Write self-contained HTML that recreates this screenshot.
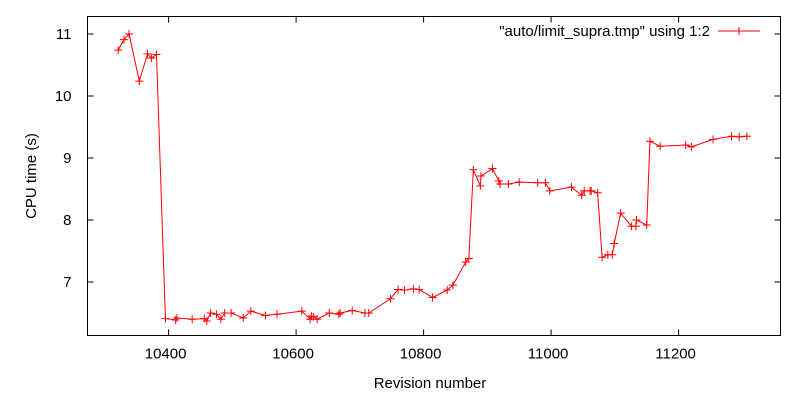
<!DOCTYPE html>
<html><head><meta charset="utf-8"><style>
body{margin:0;background:#fff;}
svg{display:block;font-family:"Liberation Sans",Arial,sans-serif;font-size:15px;}
</style></head><body>
<svg id="chart" width="800" height="400"></svg>
<script>
const revisions=[10321,10330,10338,10354,10367,10373,10381,10395,10411,10413,10437,10456,10460,10466,10475,10482,10488,10498,10517,10529,10552,10570,10609,10622,10624,10627,10633,10652,10667,10669,10688,10708,10714,10748,10760,10770,10784,10793,10814,10837,10846,10866,10871,10878,10889,10890,10908,10918,10920,10933,10950,10979,10991,10998,11032,11048,11052,11061,11063,11073,11080,11089,11096,11099,11109,11126,11133,11134,11150,11155,11171,11211,11220,11254,11283,11295,11307];
const cpuTimes=[10.74,10.91,11.0,10.24,10.68,10.61,10.67,6.41,6.39,6.42,6.40,6.41,6.37,6.50,6.48,6.40,6.50,6.50,6.42,6.53,6.46,6.48,6.53,6.40,6.45,6.44,6.40,6.50,6.48,6.50,6.54,6.50,6.50,6.73,6.88,6.87,6.89,6.88,6.75,6.87,6.95,7.32,7.38,8.81,8.55,8.71,8.83,8.63,8.58,8.58,8.61,8.60,8.60,8.47,8.53,8.40,8.47,8.47,8.47,8.44,7.40,7.44,7.44,7.62,8.11,7.90,7.90,8.00,7.92,9.27,9.19,9.21,9.18,9.30,9.35,9.34,9.35];
const xTicks=[10400,10600,10800,11000,11200];
const yTicks=[7,8,9,10,11];
const NS="http://www.w3.org/2000/svg";
const svg=document.getElementById('chart');
const L=87.5,R=780.5,T=16.5,B=335.5;
const xs=v=>168.6+(v-10400)*0.6375;
const ys=v=>34+(11-v)*62;
function mk(tag,attrs,parent){const e=document.createElementNS(NS,tag);for(const k in attrs)e.setAttribute(k,attrs[k]);(parent||svg).appendChild(e);return e;}
const frame=mk('rect',{x:L,y:T,width:R-L,height:B-T,fill:'none',stroke:'#000','stroke-width':1});


xTicks.forEach(t=>{const x=xs(t);
 const g=mk('g',{});
 
 
 mk('line',{x1:x,y1:B,x2:x,y2:B-6,stroke:'#000'},g);
 mk('line',{x1:x,y1:T,x2:x,y2:T+6,stroke:'#000'},g);
 const tx=mk('text',{x:x-3,y:B+23,'text-anchor':'middle'},g);tx.textContent=t;});
yTicks.forEach(t=>{const y=ys(t);
 const g=mk('g',{});
 
 
 mk('line',{x1:L,y1:y,x2:L+6,y2:y,stroke:'#000'},g);
 mk('line',{x1:R,y1:y,x2:R-6,y2:y,stroke:'#000'},g);
 const tx=mk('text',{x:L-16,y:y+5,'text-anchor':'end'},g);tx.textContent=t;});
const yt=mk('text',{x:36,y:176,'text-anchor':'middle',transform:'rotate(-90 36 176)'});
yt.textContent='CPU time (s)';


const xt=mk('text',{x:430,y:388,'text-anchor':'middle'});
xt.textContent='Revision number';


const pts=revisions.map((r,i)=>[xs(r),ys(cpuTimes[i])]);
const line=mk('polyline',{points:pts.map(p=>p.join(',')).join(' '),fill:'none',stroke:'#f00','stroke-width':1});


pts.forEach(p=>{const m=mk('path',{d:`M${p[0]-4},${p[1]}h8M${p[0]},${p[1]-4}v8`,stroke:'#f00','stroke-width':1});
 
 });
const lg=mk('g',{});


const lt=mk('text',{x:710,y:36,'text-anchor':'end'},lg);lt.textContent='"auto/limit_supra.tmp" using 1:2';
mk('line',{x1:718,y1:31,x2:760,y2:31,stroke:'#f00'},lg);
mk('path',{d:'M735,31h8M739,27v8',stroke:'#f00'},lg);
</script>
</body></html>
